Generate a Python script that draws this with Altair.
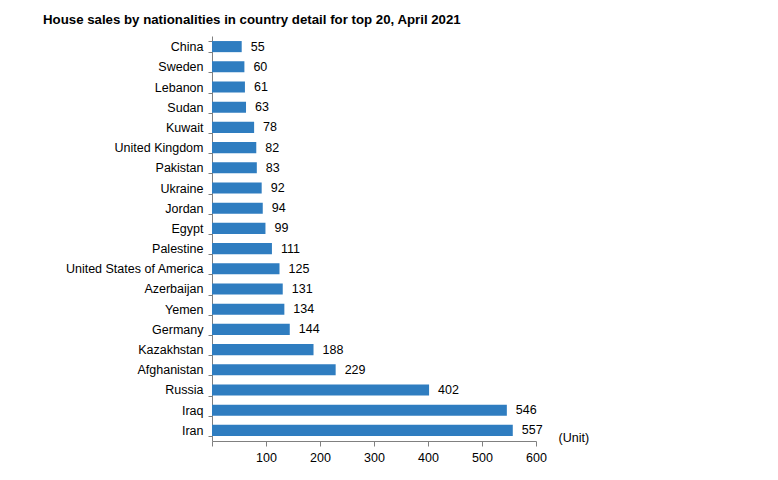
import altair as alt
import pandas as pd

countries = ["China", "Sweden", "Lebanon", "Sudan", "Kuwait", "United Kingdom", "Pakistan",
             "Ukraine", "Jordan", "Egypt", "Palestine", "United States of America", "Azerbaijan",
             "Yemen", "Germany", "Kazakhstan", "Afghanistan", "Russia", "Iraq", "Iran"]
sales = [55, 60, 61, 63, 78, 82, 83, 92, 94, 99, 111, 125, 131, 134, 144, 188, 229, 402, 546, 557]
x_ticks = [0, 100, 200, 300, 400, 500, 600]

df = pd.DataFrame({"country": countries, "sales": sales})
FONT = "Liberation Sans"
FS = 12.5

yenc = alt.Y("country:N", sort=countries, title=None,
             scale=alt.Scale(paddingInner=0.45, paddingOuter=0.25),
             axis=alt.Axis(tickBand="extent", tickSize=4, labelPadding=5, labelFontSize=FS,
                           labelColor="black", labelFont=FONT, domainColor="#808080",
                           tickColor="#808080", labelLimit=300))

xenc = alt.X("sales:Q", scale=alt.Scale(domain=[0, 600], nice=False),
             axis=alt.Axis(values=x_ticks, grid=False, tickSize=5, labelPadding=5,
                           labelFontSize=FS, labelColor="black", labelFont=FONT,
                           labelFlush=False,
                           domainColor="#808080", tickColor="#808080",
                           labelExpr="datum.value == 0 ? '' : datum.label",
                           title="(Unit)", titleX=346, titleY=-4, titleAlign="left",
                           titleBaseline="middle", titleFontWeight="normal",
                           titleFontSize=FS, titleFont=FONT, titleColor="black"))

base = alt.Chart(df).encode(y=yenc, x=xenc)

bars = base.mark_bar(color="#2F7DC0")

labels = base.mark_text(align="left", baseline="middle", dx=9, fontSize=FS,
                        font=FONT, color="black").encode(text="sales:Q")

chart = alt.layer(bars, labels).properties(
    width=324, height=405,
    autosize=alt.AutoSizeParams(type="none"),
    padding={"left": 204, "top": 28, "right": 200, "bottom": 40},
    background="white",
    title=alt.TitleParams("House sales by nationalities in country detail for top 20, April 2021",
                          anchor="start", frame="group", dx=-169, offset=3,
                          fontSize=13.25, font=FONT, fontWeight="bold", color="black"),
).configure_view(stroke=None)

chart.save("out.html", embed_options={"renderer": "svg", "actions": False})
